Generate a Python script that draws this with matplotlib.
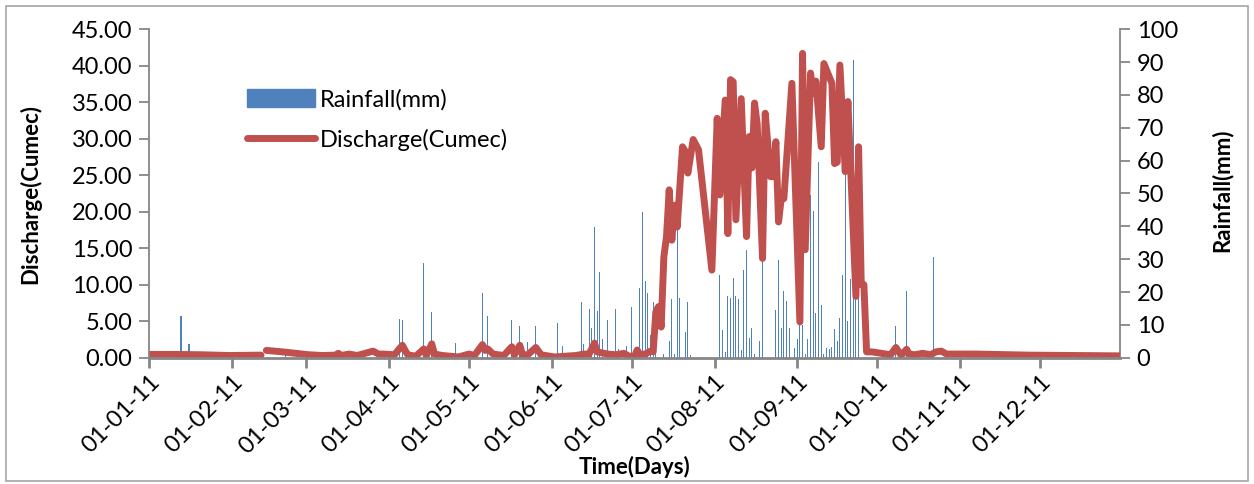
import numpy as np
import matplotlib
matplotlib.use("Agg")
import matplotlib.pyplot as plt
import matplotlib.dates as mdates
from matplotlib.patches import Rectangle
from matplotlib.lines import Line2D

# ---------------- data ----------------
base = np.datetime64('2011-01-01')

# Rainfall (mm): day-of-year offset from 1 Jan 2011, value
rain_day = [12, 15, 51, 94, 95, 103, 106, 115, 121, 125, 127, 136, 139, 142, 145,
            153, 155, 162, 163, 165, 166, 167, 168, 169, 170, 172, 175, 176, 179,
            181, 184, 185, 186, 187, 188, 189, 190, 193, 195, 196, 197, 198, 199,
            201, 202, 203, 214, 215, 216, 217, 218, 219, 220, 221, 222, 223, 224,
            225, 226, 227, 229, 230, 235, 236, 237, 238, 239, 240, 242, 243, 244,
            245, 246, 247, 248, 249, 250, 251, 252, 253, 254, 255, 256, 257, 258,
            259, 260, 261, 262, 263, 264, 265, 266, 280, 284, 294]
rain_mm = [12.7, 4.1, 2.0, 11.7, 11.6, 28.7, 13.9, 4.6, 1.5, 19.6, 12.7, 11.6, 9.7, 4.8, 9.7,
           10.7, 3.6, 17.0, 4.1, 14.9, 9.1, 39.8, 14.2, 26.1, 5.6, 11.4, 14.7, 2.6, 3.6,
           15.5, 21.3, 44.4, 23.4, 19.6, 6.9, 17.1, 8.0, 1.0, 5.1, 18.0, 1.0, 39.1, 18.3,
           7.9, 17.1, 0.8, 25.2, 8.3, 1.7, 18.8, 18.3, 24.2, 18.9, 17.8, 2.2, 26.7, 32.7,
           5.9, 9.0, 1.0, 5.1, 29.5, 14.5, 29.7, 9.0, 20.3, 17.3, 9.1, 3.0, 5.6, 12.2,
           10.0, 1.0, 5.8, 49.6, 44.7, 13.7, 59.5, 16.0, 1.0, 3.0, 2.5, 3.2, 8.7, 5.1,
           12.2, 25.1, 60.0, 11.2, 23.9, 90.5, 17.8, 18.3, 9.7, 20.3, 30.8]

# Discharge (Cumec): day-of-year offset, value (NaN = missing record)
q_day = [0, 10, 20, 30, 42, 43,
         44, 50, 60, 65, 70, 71, 72, 75, 78, 84, 86, 88, 92, 94, 95, 96, 97, 100,
         103, 104, 106, 107, 110, 116, 120, 122, 125, 126, 127, 129, 133, 136, 137,
         139, 140, 142, 145, 147, 152, 160, 163, 165, 167, 168, 172, 175, 178, 180,
         182, 183, 184, 186, 188, 189, 190, 191, 192, 193, 194, 195, 196, 197, 198,
         200, 201, 202, 204, 206, 211, 213, 214, 216, 217, 218, 219, 220, 222, 224,
         225, 226, 227, 228, 230, 231, 233, 234, 235, 236, 237, 238, 241, 244, 245,
         246, 248, 249, 250, 252, 253, 255, 256, 257, 258, 259, 261, 262, 265, 266,
         267, 268, 269, 271, 278, 280, 282, 284, 285, 287, 290, 293, 295, 297, 299,
         310, 330, 350, 364]
q_val = [0.45, 0.45, 0.4, 0.3, 0.35, np.nan,
         1.0, 0.8, 0.4, 0.3, 0.35, 0.6, 0.3, 0.5, 0.3, 0.9, 0.5, 0.5, 0.4, 1.3, 1.7, 1.0, 0.4, 0.2,
         1.2, 0.3, 1.9, 0.5, 0.3, 0.1, 0.5, 0.3, 1.8, 1.0, 1.2, 0.5, 0.3, 1.5, 0.4,
         1.7, 0.4, 0.4, 1.4, 0.4, 0.1, 0.3, 0.5, 0.5, 2.0, 0.8, 0.5, 0.4, 0.6, 0.2,
         0.2, 1.05, 0.4, 0.5, 0.9, 0.8, 6.3, 7.0, 4.2, 13.8, 16.6, 23.0, 16.1, 20.9, 17.9,
         28.9, 28.3, 25.3, 29.9, 28.5, 12.0, 32.8, 22.3, 35.3, 17.0, 38.1, 37.8, 18.9, 35.5, 16.6,
         30.3, 26.0, 34.9, 32.0, 13.6, 33.5, 24.8, 24.8, 29.6, 18.6, 21.8, 21.8, 37.6, 4.9, 41.7,
         14.8, 39.0, 36.2, 37.9, 28.9, 40.3, 38.5, 37.6, 26.6, 26.8, 40.1, 25.5, 35.1, 8.4, 28.9,
         10.0, 10.0, 0.8, 0.8, 0.4, 1.4, 0.3, 1.15, 0.5, 0.4, 0.6, 0.4, 0.8, 0.9, 0.5,
         0.5, 0.35, 0.3, 0.25]

month_ticks = ['2011-%02d-01' % m for m in range(1, 13)]

# ---------------- figure ----------------
W, H = 1254, 484
fig = plt.figure(figsize=(W / 100, H / 100), dpi=100)
FONT = 'Lato'
plt.rcParams['font.family'] = [FONT, 'DejaVu Sans']

left, right = 149 / W, 1120 / W
bottom, top = 1 - 357.7 / H, 1 - 29.3 / H
ax = fig.add_axes([left, bottom, right - left, top - bottom])
ax2 = ax.twinx()
ax.set_zorder(ax2.get_zorder() + 1)
ax.patch.set_visible(False)

rain_dates = base + np.array(rain_day).astype('timedelta64[D]')
q_dates = base + np.array(q_day).astype('timedelta64[D]')

blue = '#4F81BD'
red = '#C0504D'
grey = '#868686'

ax2.bar(rain_dates, rain_mm, width=0.4, color=blue, linewidth=0, align='center')
ax.plot(q_dates, q_val, color=red, linewidth=5.0, solid_capstyle='round',
        solid_joinstyle='round')

xmin = base
xmax = base + np.timedelta64(364, 'D')
ax.set_xlim(xmin, xmax)
ax.set_ylim(0, 45)
ax2.set_ylim(0, 100)

ax.set_yticks(np.arange(0, 46, 5))
ax.set_yticklabels(['%.2f' % v for v in np.arange(0, 46, 5)])
ax2.set_yticks(np.arange(0, 101, 10))
ax2.set_yticklabels(['%d' % v for v in np.arange(0, 101, 10)])

ticks = [np.datetime64(t) for t in month_ticks]
ax.set_xticks(ticks)
ax.xaxis.set_major_formatter(mdates.DateFormatter('%d-%m-%y'))
for lab in ax.get_xticklabels():
    lab.set_rotation(45)
    lab.set_ha('right')
    lab.set_va('top')
    lab.set_rotation_mode('anchor')

fs = 17
for a in (ax, ax2):
    a.spines['top'].set_visible(False)
    a.tick_params(labelsize=fs, colors='black', length=7, width=1.3, direction='out',
                  color=grey, pad=5)
ax.spines['right'].set_visible(False)
ax2.spines['left'].set_visible(False)
ax2.spines['bottom'].set_visible(False)
ax.spines['left'].set_color(grey)
ax.spines['left'].set_linewidth(1.3)
ax.spines['bottom'].set_color(grey)
ax.spines['bottom'].set_linewidth(2)
ax2.spines['right'].set_color(grey)
ax2.spines['right'].set_linewidth(1.3)
ax.tick_params(axis='x', pad=3, width=2)

ax.set_ylabel('Discharge(Cumec)', fontsize=16, fontweight='bold')
ax.yaxis.set_label_coords((41 - 149) / 971, 0.5)
ax2.set_ylabel('Rainfall(mm)', fontsize=16, fontweight='bold')
ax2.yaxis.set_label_coords((1211 - 149) / 971, 0.51)
fig.text(634 / W, 1 - 467 / H, 'Time(Days)', fontsize=16, fontweight='bold',
         ha='center', va='center')

handles = [Rectangle((0, 0), 1, 1, color=blue),
           Line2D([0], [0], color=red, linewidth=5.0, solid_capstyle='round')]
leg = fig.legend(handles, ['Rainfall(mm)', 'Discharge(Cumec)'],
                 loc='upper left', bbox_to_anchor=(247 / W, 1 - 89 / H),
                 frameon=False, fontsize=fs, handlelength=2.9, handleheight=0.8,
                 handletextpad=0.2, labelspacing=0.78, borderaxespad=0,
                 borderpad=0)

fig.patches.append(Rectangle((6 / W, 3 / H), 1242 / W, 475 / H,
                             transform=fig.transFigure, fill=False,
                             edgecolor='#A6A6A6', linewidth=1.2))

fig.savefig('out.png', dpi=100)
